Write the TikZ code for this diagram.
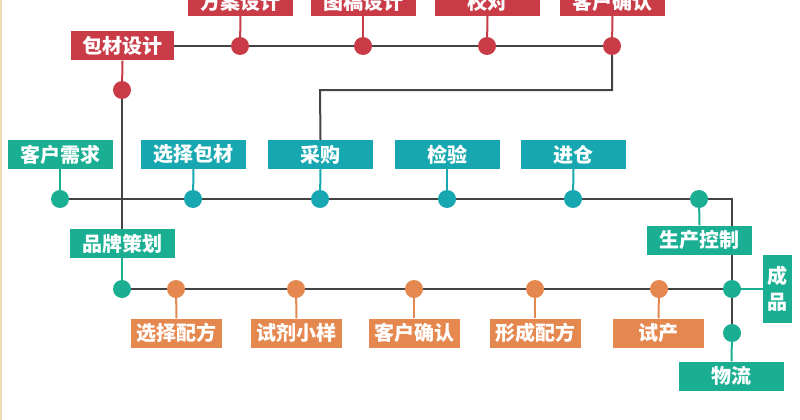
\documentclass[tikz,border=0pt]{standalone}
\usepackage{fontspec}
\setmainfont{Noto Sans CJK SC}
\definecolor{cred}{HTML}{C93C47}
\definecolor{cgreen}{HTML}{1AAE92}
\definecolor{cblue}{HTML}{17A7B0}
\definecolor{corange}{HTML}{E5884F}
\definecolor{cline}{HTML}{444444}
\definecolor{cbeige}{HTML}{EFD9B2}
\tikzset{
  box/.style={rectangle, inner sep=0pt, minimum height=29pt, text=white, font=\fontsize{20}{22}\selectfont\bfseries},
  wbox/.style={box, minimum width=105pt},
  obox/.style={box, minimum width=91pt, fill=corange},
  dot/.style={circle, inner sep=0pt, minimum size=18pt},
  mainline/.style={cline, line width=2pt},
  stem/.style={line width=2pt},
}
\begin{document}
\begin{tikzpicture}[x=1pt,y=-1pt]
\useasboundingbox (0,0) rectangle (800,420);
\fill[white] (0,0) rectangle (800,420);
\fill[cbeige] (0,0) rectangle (2,420);

% red row
\node[wbox, fill=cred] (fa) at (240.5,1.5) {方案设计};
\node[wbox, fill=cred] (tg) at (363,1.5) {图稿设计};
\node[wbox, fill=cred] (jd) at (487.5,1.5) {校对};
\node[wbox, fill=cred] (kq1) at (612.5,1.5) {客户确认};
\node[box, minimum width=103pt, fill=cred] (bc) at (122.5,46) {包材设计};

\coordinate (rfa) at (240,46);
\coordinate (rtg) at (363,46);
\coordinate (rjd) at (487,46);
\coordinate (rkq) at (612,46);
\coordinate (rbc) at (122,90);
\coordinate (k1) at (612,90);
\coordinate (k2) at (320,90);

% teal row
\node[wbox, fill=cgreen] (kx) at (60,154.5) {客户需求};
\node[wbox, fill=cblue] (xb) at (193.5,154.5) {选择包材};
\node[wbox, fill=cblue] (cg) at (320.5,154.5) {采购};
\node[wbox, fill=cblue] (jy) at (447,154.5) {检验};
\node[wbox, fill=cblue] (jc) at (573.5,154.5) {进仓};
\node[wbox, fill=cgreen] (pp) at (122,243.5) {品牌策划};

\coordinate (tkx) at (60,199);
\coordinate (txb) at (193,199);
\coordinate (tcg) at (320,199);
\coordinate (tjy) at (447,199);
\coordinate (tjc) at (573,199);
\coordinate (tsc) at (699,199);
\coordinate (tc) at (732,199);
\coordinate (tpp) at (122,289);
\coordinate (tj) at (732,289);
\coordinate (twl) at (732,333);

% orange row
\node[obox] (xp) at (176.5,333) {选择配方};
\node[obox] (sj) at (296.5,333) {试剂小样};
\node[obox] (kq2) at (414,333) {客户确认};
\node[obox] (xc) at (535,333) {形成配方};
\node[obox] (sp) at (658.5,333) {试产};
\coordinate (oxp) at (176,289);
\coordinate (osj) at (296,289);
\coordinate (okq) at (414,289);
\coordinate (oxc) at (535,289);
\coordinate (osp) at (659,289);

\node[box, minimum width=29pt, minimum height=68pt, fill=cgreen, align=center,
      font=\fontsize{20}{26}\selectfont\bfseries] (cp) at (777.5,289) {成\\品};
\node[wbox, fill=cgreen] (wl) at (731.5,376) {物流};

% main lines
\draw[mainline] (bc.east) -- (rkq);
\draw[mainline] (rbc) -- (pp.north);
\draw[mainline] (rkq) -- (k1) -- (k2) -- (cg.north);
\draw[mainline] (tkx) -- (tc) -- (twl);
\draw[mainline] (tpp) -- (tj);

% box over the vertical line
\node[wbox, fill=cgreen] (sc) at (699.5,240) {生产控制};

% stems
\draw[stem, cred] (fa.south) -- (rfa);
\draw[stem, cred] (tg.south) -- (rtg);
\draw[stem, cred] (jd.south) -- (rjd);
\draw[stem, cred] (kq1.south) -- (rkq);
\draw[stem, cred] (bc.south) -- (rbc);
\draw[stem, cgreen] (kx.south) -- (tkx);
\draw[stem, cblue] (xb.south) -- (txb);
\draw[stem, cblue] (cg.south) -- (tcg);
\draw[stem, cblue] (jy.south) -- (tjy);
\draw[stem, cblue] (jc.south) -- (tjc);
\draw[stem, cgreen] (sc.north) -- (tsc);
\draw[stem, cgreen] (pp.south) -- (tpp);
\draw[stem, cgreen] (tj) -- (cp.west);
\draw[stem, cgreen] (twl) -- (wl.north);
\draw[stem, corange] (xp.north) -- (oxp);
\draw[stem, corange] (sj.north) -- (osj);
\draw[stem, corange] (kq2.north) -- (okq);
\draw[stem, corange] (xc.north) -- (oxc);
\draw[stem, corange] (sp.north) -- (osp);

% dots
\foreach \p in {rfa,rtg,rjd,rkq,rbc} \node[dot, fill=cred] at (\p) {};
\foreach \p in {tkx,tsc,tpp,tj,twl} \node[dot, fill=cgreen] at (\p) {};
\foreach \p in {txb,tcg,tjy,tjc} \node[dot, fill=cblue] at (\p) {};
\foreach \p in {oxp,osj,okq,oxc,osp} \node[dot, fill=corange] at (\p) {};
\end{tikzpicture}
\end{document}
